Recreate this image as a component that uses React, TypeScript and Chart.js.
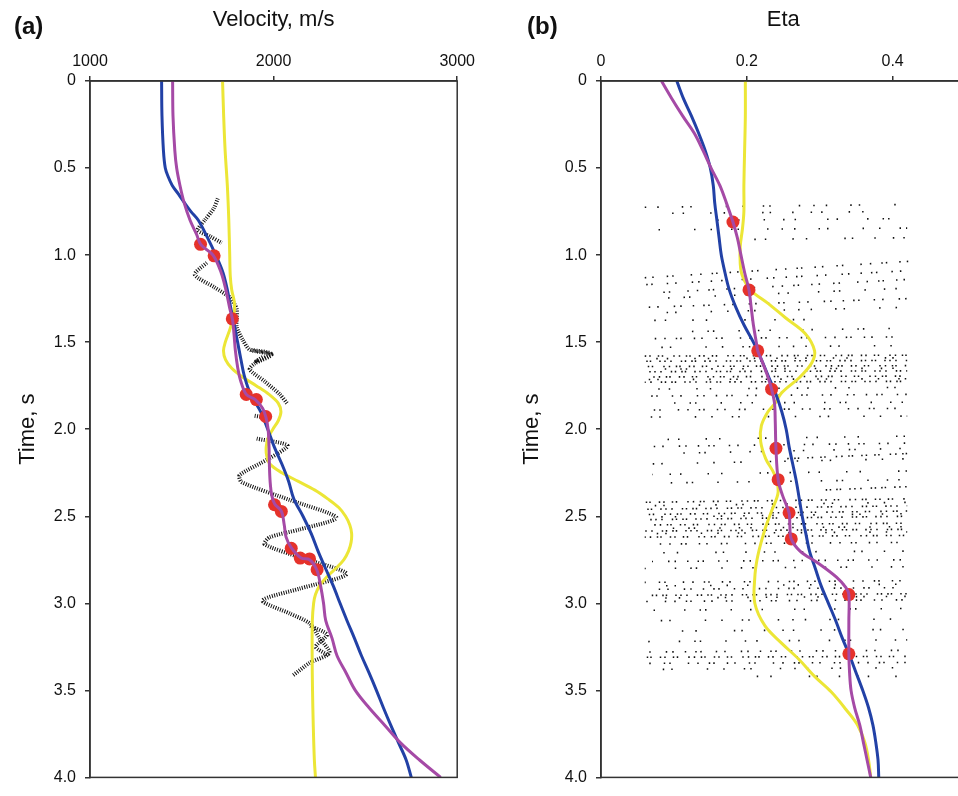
import React, { useEffect, useRef } from 'react';
import { Chart, registerables } from 'chart.js';

Chart.register(...registerables);

const FONT = "'Liberation Sans', Arial, Helvetica, sans-serif";

// ---------- Panel (a): velocity (m/s) against two-way time (s) ----------
const VEL_AXIS = { min: 1000, max: 3000, step: 1000 };

const BLUE_A_T = [0, 0.2, 0.4, 0.5, 0.55, 0.6, 0.65, 0.7, 0.75, 0.8, 0.9, 1.0, 1.1, 1.2, 1.3, 1.4, 1.5, 1.6, 1.7, 1.8, 1.9, 2.0, 2.1, 2.2, 2.3, 2.4, 2.5, 2.6, 2.7, 2.8, 2.9, 3.0, 3.1, 3.2, 3.3, 3.4, 3.5, 3.6, 3.7, 3.8, 3.9, 4.0];
const BLUE_A_V = [1390, 1392, 1400, 1410, 1426, 1448, 1482, 1515, 1550, 1590, 1640, 1685, 1724, 1748, 1766, 1786, 1804, 1822, 1842, 1875, 1930, 1968, 2003, 2045, 2082, 2110, 2160, 2205, 2242, 2283, 2325, 2362, 2400, 2440, 2478, 2520, 2560, 2598, 2638, 2680, 2722, 2750];

const MAGENTA_A_T = [0, 0.2, 0.4, 0.5, 0.6, 0.7, 0.8, 0.88, 0.94, 1.0, 1.1, 1.2, 1.3, 1.37, 1.45, 1.55, 1.65, 1.72, 1.8, 1.83, 1.88, 1.93, 2.0, 2.1, 2.2, 2.3, 2.38, 2.43, 2.47, 2.55, 2.62, 2.68, 2.74, 2.75, 2.81, 2.9, 3.0, 3.1, 3.2, 3.3, 3.4, 3.5, 3.6, 3.7, 3.8, 3.9, 4.0];
const MAGENTA_A_V = [1450, 1452, 1462, 1472, 1490, 1513, 1545, 1580, 1604, 1670, 1714, 1740, 1760, 1776, 1784, 1792, 1805, 1820, 1851, 1900, 1940, 1958, 1970, 1975, 1977, 1981, 1990, 2006, 2042, 2058, 2068, 2096, 2150, 2196, 2236, 2256, 2272, 2284, 2318, 2345, 2395, 2445, 2520, 2605, 2690, 2795, 2910];

const YELLOW_A_T = [0, 0.2, 0.4, 0.6, 0.8, 1.0, 1.12, 1.2, 1.27, 1.34, 1.42, 1.5, 1.55, 1.6, 1.65, 1.7, 1.75, 1.8, 1.85, 1.9, 1.95, 2.0, 2.05, 2.1, 2.15, 2.2, 2.25, 2.3, 2.35, 2.4, 2.45, 2.5, 2.55, 2.6, 2.65, 2.7, 2.75, 2.8, 2.85, 2.9, 2.95, 3.0, 3.1, 3.3, 3.5, 3.7, 3.9, 4.0];
const YELLOW_A_V = [1722, 1728, 1736, 1748, 1756, 1761, 1764, 1772, 1786, 1784, 1764, 1737, 1727, 1738, 1772, 1830, 1905, 1975, 2025, 2040, 2026, 1996, 1970, 1960, 1962, 1980, 2045, 2135, 2225, 2295, 2355, 2392, 2415, 2425, 2422, 2408, 2382, 2338, 2288, 2250, 2228, 2218, 2211, 2210, 2212, 2216, 2222, 2228];

// picked velocities
const PICKS_A_T = [0.938, 1.004, 1.366, 1.8, 1.83, 1.927, 2.434, 2.472, 2.684, 2.74, 2.745, 2.807];
const PICKS_A_V = [1602, 1676, 1775, 1851, 1906, 1957, 2005, 2042, 2096, 2145, 2196, 2237];

// semblance trace, as [velocity, time] vertices
const TRACE_A: number[][][] = [
  [[1696, 0.675], [1674, 0.732], [1625, 0.8], [1587, 0.857], [1652, 0.891], [1717, 0.93]],
  [[1636, 1.044], [1571, 1.112], [1679, 1.186], [1761, 1.243], [1799, 1.311], [1799, 1.413], [1832, 1.487], [1870, 1.543], [1989, 1.572], [1897, 1.623], [1870, 1.657], [1951, 1.725], [2033, 1.799], [2076, 1.855]],
  [[1880, 1.545], [1985, 1.565], [1905, 1.61], [1940, 1.585]],
  [[1897, 1.923], [1967, 1.935]],
  [[1908, 2.054], [2076, 2.094], [1978, 2.167], [1815, 2.264], [1826, 2.304], [2087, 2.406], [2342, 2.508], [2141, 2.576], [1978, 2.621], [1951, 2.661], [2141, 2.735], [2397, 2.831], [2141, 2.916], [1940, 2.984], [2087, 3.058], [2196, 3.115], [2250, 3.2], [2304, 3.285], [2196, 3.342], [2103, 3.416]],
  [[2200, 3.13], [2290, 3.18], [2230, 3.25], [2300, 3.3]],
];

// ---------- Panel (b): eta against two-way time (s) ----------
const ETA_AXIS = { min: 0, max: 0.5, step: 0.2 };

const BLUE_B_T = [0, 0.1, 0.2, 0.3, 0.4, 0.5, 0.6, 0.7, 0.8, 0.9, 1.0, 1.1, 1.2, 1.3, 1.4, 1.5, 1.6, 1.7, 1.8, 1.9, 2.0, 2.1, 2.2, 2.3, 2.4, 2.5, 2.6, 2.7, 2.8, 2.9, 3.0, 3.1, 3.2, 3.3, 3.4, 3.5, 3.6, 3.7, 3.8, 3.9, 4.0];
const BLUE_B_E = [0.104, 0.113, 0.124, 0.134, 0.143, 0.15, 0.154, 0.156, 0.159, 0.162, 0.165, 0.17, 0.176, 0.185, 0.196, 0.209, 0.22, 0.23, 0.24, 0.248, 0.254, 0.258, 0.263, 0.268, 0.272, 0.276, 0.281, 0.286, 0.294, 0.302, 0.312, 0.322, 0.331, 0.341, 0.35, 0.359, 0.367, 0.373, 0.377, 0.38, 0.381];

const MAGENTA_B_T = [0, 0.1, 0.2, 0.3, 0.4, 0.5, 0.6, 0.7, 0.81, 0.9, 1.0, 1.1, 1.2, 1.3, 1.4, 1.5, 1.55, 1.6, 1.7, 1.77, 1.85, 1.95, 2.11, 2.29, 2.38, 2.48, 2.55, 2.63, 2.7, 2.77, 2.85, 2.91, 2.95, 3.1, 3.29, 3.4, 3.5, 3.6, 3.7, 3.8, 3.9, 4.0];
const MAGENTA_B_E = [0.083, 0.097, 0.112, 0.128, 0.14, 0.151, 0.163, 0.172, 0.181, 0.187, 0.192, 0.197, 0.203, 0.206, 0.209, 0.213, 0.215, 0.22, 0.229, 0.234, 0.238, 0.239, 0.24, 0.243, 0.249, 0.258, 0.259, 0.261, 0.273, 0.298, 0.323, 0.336, 0.34, 0.34, 0.34, 0.341, 0.343, 0.348, 0.355, 0.36, 0.365, 0.37];

const YELLOW_B_T = [0, 0.2, 0.4, 0.6, 0.75, 0.85, 0.95, 1.05, 1.12, 1.2, 1.28, 1.36, 1.45, 1.55, 1.62, 1.7, 1.79, 1.85, 1.9, 1.98, 2.07, 2.17, 2.26, 2.36, 2.47, 2.56, 2.66, 2.75, 2.85, 3.0, 3.13, 3.23, 3.32, 3.42, 3.51, 3.61, 3.7, 3.8, 3.9, 4.0];
const YELLOW_B_E = [0.198, 0.198, 0.197, 0.196, 0.196, 0.194, 0.191, 0.191, 0.194, 0.205, 0.23, 0.253, 0.28, 0.293, 0.289, 0.273, 0.248, 0.239, 0.229, 0.22, 0.219, 0.226, 0.238, 0.243, 0.234, 0.226, 0.219, 0.214, 0.211, 0.211, 0.225, 0.248, 0.271, 0.293, 0.316, 0.336, 0.352, 0.362, 0.367, 0.37];

const PICKS_B_T = [0.81, 1.2, 1.55, 1.77, 2.11, 2.29, 2.48, 2.63, 2.95, 3.29];
const PICKS_B_E = [0.181, 0.203, 0.215, 0.234, 0.24, 0.243, 0.258, 0.261, 0.34, 0.34];

// scan rows of the eta semblance, [eta start, time start, eta end, time end]
const ROWS_SPARSE = [
  [0.06, 0.725, 0.41, 0.71], [0.09, 0.76, 0.4, 0.75], [0.14, 0.8, 0.42, 0.79], [0.07, 0.855, 0.42, 0.845], [0.2, 0.91, 0.42, 0.9],
  [0.07, 1.25, 0.42, 1.19], [0.09, 1.33, 0.42, 1.3], [0.06, 1.375, 0.3, 1.37], [0.1, 1.44, 0.42, 1.42], [0.08, 1.53, 0.41, 1.52],
  [0.06, 1.595, 0.42, 1.59], [0.06, 1.655, 0.42, 1.65], [0.06, 1.715, 0.42, 1.71],
  [0.06, 1.77, 0.42, 1.76], [0.07, 1.85, 0.42, 1.845], [0.06, 1.93, 0.42, 1.925],
  [0.07, 2.06, 0.42, 2.04], [0.08, 2.14, 0.42, 2.11], [0.06, 2.2, 0.42, 2.17], [0.07, 2.26, 0.42, 2.24], [0.06, 2.31, 0.42, 2.29],
  [0.06, 2.44, 0.42, 2.42], [0.06, 2.505, 0.42, 2.485], [0.06, 2.57, 0.42, 2.56], [0.06, 2.6, 0.42, 2.59],
  [0.06, 2.71, 0.42, 2.7], [0.06, 2.8, 0.42, 2.79], [0.07, 2.9, 0.42, 2.89], [0.06, 2.97, 0.42, 2.96],
  [0.07, 3.04, 0.42, 3.03], [0.06, 3.1, 0.42, 3.09], [0.08, 3.16, 0.42, 3.15], [0.06, 3.22, 0.42, 3.21],
  [0.06, 3.38, 0.42, 3.37], [0.18, 3.42, 0.42, 3.42],
];
const ROWS_MEDIUM = [
  [0.06, 1.13, 0.425, 1.035], [0.06, 1.17, 0.42, 1.09], [0.08, 1.215, 0.42, 1.14], [0.06, 1.3, 0.42, 1.25], [0.06, 1.48, 0.42, 1.47],
  [0.06, 1.81, 0.42, 1.8], [0.06, 1.89, 0.42, 1.88], [0.06, 2.1, 0.42, 2.08],
  [0.06, 2.66, 0.42, 2.65], [0.07, 2.76, 0.42, 2.75],
  [0.06, 2.88, 0.42, 2.87], [0.06, 2.92, 0.42, 2.91], [0.06, 2.99, 0.42, 2.98],
  [0.06, 3.28, 0.42, 3.27], [0.06, 3.345, 0.42, 3.34],
];
const ROWS_DENSE = [
  [0.06, 1.58, 0.42, 1.575], [0.06, 1.61, 0.42, 1.605], [0.06, 1.64, 0.42, 1.635], [0.06, 1.67, 0.42, 1.665], [0.06, 1.7, 0.42, 1.695], [0.06, 1.73, 0.42, 1.725],
  [0.25, 2.17, 0.42, 2.14], [0.3, 2.35, 0.42, 2.33],
  [0.06, 2.42, 0.42, 2.4], [0.06, 2.46, 0.42, 2.44], [0.06, 2.49, 0.42, 2.47], [0.06, 2.52, 0.42, 2.5], [0.06, 2.55, 0.42, 2.54], [0.06, 2.585, 0.42, 2.575], [0.06, 2.62, 0.42, 2.61],
  [0.06, 2.955, 0.42, 2.945], [0.06, 3.31, 0.42, 3.305],
];

// ---------- styling ----------
const BLUE = '#2241a6';
const MAGENTA = '#a54aa6';
const YELLOW = '#ece636';
const RED = '#e5322b';
const INK = '#111111';
const AXIS = '#333333';

const DASH_SPARSE = [
  [1.5, 11, 1.5, 23, 1.5, 7, 1.5, 34, 1.5, 15, 1.5, 19, 1.5, 5, 1.5, 28, 1.5, 13],
  [1.5, 17, 1.5, 9, 1.5, 26, 1.5, 12, 1.5, 37, 1.5, 6, 1.5, 21],
  [1.5, 8, 1.5, 29, 1.5, 14, 1.5, 4, 1.5, 24, 1.5, 18, 1.5, 10, 1.5, 31],
];
const DASH_MEDIUM = [
  [1.5, 6, 1.5, 13, 1.5, 4, 1.5, 17, 1.5, 8, 1.5, 10, 1.5, 3, 1.5, 12],
  [1.5, 9, 1.5, 3.5, 1.5, 14, 1.5, 7, 1.5, 15, 1.5, 5, 1.5, 11],
];
const DASH_DENSE = [
  [1.5, 3, 1.5, 7, 1.5, 2.5, 1.5, 10, 1.5, 4, 1.5, 5.5, 1.5, 2, 1.5, 8],
  [1.5, 5, 1.5, 2, 1.5, 8, 1.5, 3.5, 1.5, 4.5, 1.5, 9, 1.5, 2.5],
];

const pts = (ts: number[], xs: number[]) => ts.map((t, i) => ({ x: xs[i], y: t }));

const curve = (label: string, ts: number[], xs: number[], color: string, order: number) => ({
  label,
  data: pts(ts, xs),
  showLine: true,
  borderColor: color,
  backgroundColor: color,
  borderWidth: 3,
  pointRadius: 0,
  tension: 0.35,
  order,
});

const picks = (ts: number[], xs: number[], order: number) => ({
  label: 'picks',
  data: pts(ts, xs),
  showLine: false,
  pointStyle: 'circle',
  pointRadius: 6.5,
  borderWidth: 0,
  backgroundColor: RED,
  borderColor: RED,
  pointBackgroundColor: RED,
  pointBorderColor: RED,
  pointBorderWidth: 0,
  order,
});

const framePlugin = {
  id: 'frame',
  afterDatasetsDraw(chart: any) {
    const { ctx, chartArea: a } = chart;
    ctx.save();
    ctx.strokeStyle = AXIS;
    ctx.lineWidth = 1.5;
    ctx.strokeRect(a.left, a.top, a.right - a.left, a.bottom - a.top);
    ctx.restore();
  },
};

function scales(xr: { min: number; max: number; step: number }, xTitle: string, yWidth: number) {
  const tickFont = { family: FONT, size: 16 };
  const titleFont = { family: FONT, size: 22 };
  const grid = { drawOnChartArea: false, drawTicks: true, tickLength: 5, color: AXIS, lineWidth: 1.5 };
  const border = { display: true, color: AXIS, width: 1.5 };
  return {
    x: {
      type: 'linear',
      position: 'top',
      min: xr.min,
      max: xr.max,
      afterFit: (s: any) => { s.height = 81; },
      ticks: { stepSize: xr.step, includeBounds: false, color: INK, font: tickFont, padding: 5, maxRotation: 0, callback: (v: any) => String(Math.round(v * 1000) / 1000) },
      grid,
      border,
      title: { display: true, text: xTitle, color: INK, font: titleFont, padding: { top: 7, bottom: 0 } },
    },
    y: {
      type: 'linear',
      reverse: true,
      min: 0,
      max: 4,
      afterFit: (s: any) => { s.width = yWidth; },
      ticks: { stepSize: 0.5, color: INK, font: tickFont, padding: 9, callback: (v: any) => (v === 0 ? '0' : Number(v).toFixed(1)) },
      grid,
      border,
      title: { display: true, text: 'Time, s', color: INK, font: titleFont, padding: { top: 15, bottom: 0 } },
    },
  };
}

const baseOptions = (padRight: number, sc: any) => ({
  responsive: false,
  animation: false,
  devicePixelRatio: 1,
  layout: { padding: { left: 0, right: padRight, top: 0, bottom: 10 } },
  plugins: { legend: { display: false }, tooltip: { enabled: false } },
  events: [],
  scales: sc,
});

function velocityConfig(): any {
  const traces = TRACE_A.map((path) => ({
    label: 'trace',
    data: path.map(([v, t]) => ({ x: v, y: t })),
    showLine: true,
    borderColor: INK,
    borderWidth: 4,
    borderDash: [1, 1.4],
    pointRadius: 0,
    tension: 0.25,
    order: 9,
  }));
  return {
    type: 'scatter',
    data: {
      datasets: [
        curve('Vint picked', MAGENTA_A_T, MAGENTA_A_V, MAGENTA, 1),
        picks(PICKS_A_T, PICKS_A_V, 2),
        curve('Vint model', BLUE_A_T, BLUE_A_V, BLUE, 3),
        curve('Vint update', YELLOW_A_T, YELLOW_A_V, YELLOW, 4),
        ...traces,
      ],
    },
    options: baseOptions(22, scales(VEL_AXIS, 'Velocity, m/s', 90)),
    plugins: [framePlugin],
  };
}

function etaConfig(): any {
  const rowSets = (rows: number[][], dashes: number[][], offsetStep: number) =>
    rows.map(([e0, t0, e1, t1], i) => ({
      label: 'scan',
      data: [{ x: e0, y: t0 }, { x: e1, y: t1 }],
      showLine: true,
      borderColor: INK,
      borderWidth: 1.6,
      borderDash: dashes[i % dashes.length],
      borderDashOffset: (i * offsetStep) % 41,
      pointRadius: 0,
      order: 9,
    }));
  return {
    type: 'scatter',
    data: {
      datasets: [
        curve('Eta picked', MAGENTA_B_T, MAGENTA_B_E, MAGENTA, 1),
        picks(PICKS_B_T, PICKS_B_E, 2),
        curve('Eta model', BLUE_B_T, BLUE_B_E, BLUE, 3),
        curve('Eta update', YELLOW_B_T, YELLOW_B_E, YELLOW, 4),
        ...rowSets(ROWS_SPARSE, DASH_SPARSE, 13),
        ...rowSets(ROWS_MEDIUM, DASH_MEDIUM, 9),
        ...rowSets(ROWS_DENSE, DASH_DENSE, 5),
      ],
    },
    options: baseOptions(3, scales(ETA_AXIS, 'Eta', 97)),
    plugins: [framePlugin],
  };
}

const panelLabel: React.CSSProperties = {
  position: 'absolute',
  top: 14,
  font: `bold 24px ${FONT}`,
  lineHeight: '24px',
  color: INK,
};

export default function App() {
  const refA = useRef<HTMLCanvasElement>(null);
  const refB = useRef<HTMLCanvasElement>(null);

  useEffect(() => {
    const a = new Chart(refA.current as HTMLCanvasElement, velocityConfig());
    const b = new Chart(refB.current as HTMLCanvasElement, etaConfig());
    return () => {
      a.destroy();
      b.destroy();
    };
  }, []);

  return (
    <div style={{ position: 'fixed', left: 0, top: 0, width: 958, height: 796, overflow: 'hidden', background: '#fff' }}>
      <canvas ref={refA} width={480} height={796} style={{ position: 'absolute', left: 0, top: 0, width: 480, height: 796 }} />
      <canvas ref={refB} width={468} height={796} style={{ position: 'absolute', left: 504, top: 0, width: 468, height: 796 }} />
      <div style={{ ...panelLabel, left: 14 }}>(a)</div>
      <div style={{ ...panelLabel, left: 527 }}>(b)</div>
    </div>
  );
}
